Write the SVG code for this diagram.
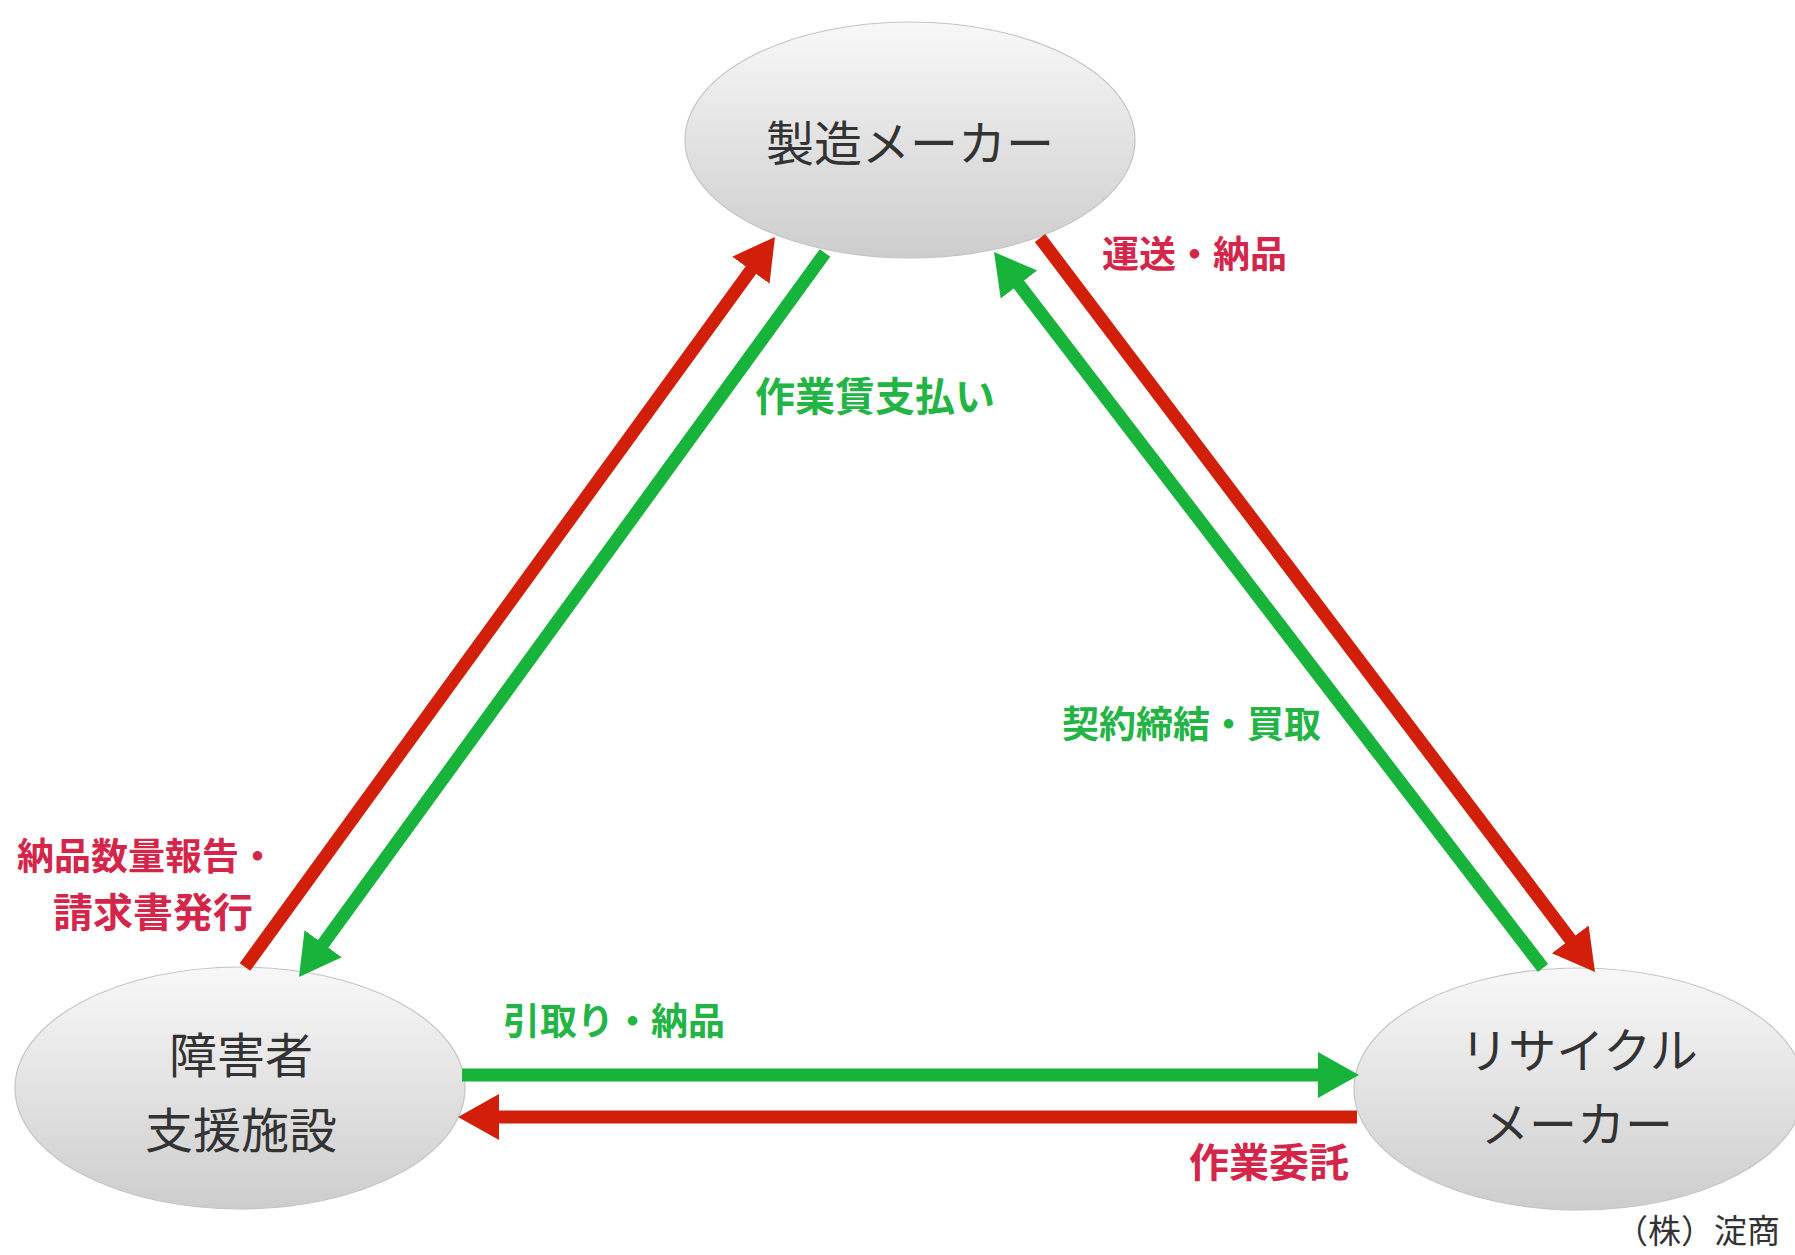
<svg xmlns="http://www.w3.org/2000/svg" width="1795" height="1255" viewBox="0 0 1795 1255">
<style>
.node-shape{fill:url(#g);stroke:#c4c4c4;stroke-width:1.2}
.node-text{font-family:"Noto Sans CJK JP","Noto Sans",sans-serif;font-size:48px;fill:#333;text-anchor:middle}
.lbl{font-family:"Noto Sans CJK JP","Noto Sans",sans-serif;font-size:37px;font-weight:bold}
.big{font-size:40px}
.red-t{fill:#d4264a}
.grn-t{fill:#22b445}
.red{stroke:#d21f0a;stroke-width:13;fill:none}
.grn{stroke:#17b33a;stroke-width:13;fill:none}
.credit{font-family:"Noto Sans CJK JP","Noto Sans",sans-serif;font-size:33px;fill:#333;text-anchor:end}
</style>
<defs>
<linearGradient id="g" x1="0" y1="0" x2="0" y2="1">
<stop offset="0" stop-color="#f8f8f8"/>
<stop offset="1" stop-color="#cdcdcd"/>
</linearGradient>
<marker id="ar" markerUnits="userSpaceOnUse" markerWidth="50" markerHeight="50" refX="6" refY="23" orient="auto" viewBox="0 0 50 46">
<path d="M0,0 L41,23 L0,46 z" fill="#d21f0a"/>
</marker>
<marker id="ag" markerUnits="userSpaceOnUse" markerWidth="50" markerHeight="50" refX="6" refY="23" orient="auto" viewBox="0 0 50 46">
<path d="M0,0 L41,23 L0,46 z" fill="#17b33a"/>
</marker>
</defs>
<rect width="1795" height="1255" fill="#fff"/>
<g id="node-maker">
<ellipse class="node-shape" cx="910" cy="140" rx="225" ry="118"/>
<text class="node-text" x="910" y="161">製造メーカー</text>
</g>
<g id="node-facility">
<ellipse class="node-shape" cx="240" cy="1088" rx="225" ry="121"/>
<text class="node-text" x="241" y="1073" font-size="50">障害者</text>
<text class="node-text" x="241" y="1148" font-size="50">支援施設</text>
</g>
<g id="node-recycle">
<ellipse class="node-shape" cx="1579" cy="1089" rx="225" ry="121"/>
<text class="node-text" x="1579" y="1068">リサイクル</text>
<text class="node-text" x="1577" y="1142">メーカー</text>
</g>
<g id="connectors">
<line class="red" x1="245" y1="967" x2="754.4" y2="265.3" marker-end="url(#ar)"/>
<line class="grn" x1="825" y1="253" x2="319.6" y2="948.7" marker-end="url(#ag)"/>
<line class="grn" x1="1543" y1="968" x2="1015.3" y2="279.8" marker-end="url(#ag)"/>
<line class="red" x1="1040" y1="238" x2="1573.9" y2="944.1" marker-end="url(#ar)"/>
<line class="grn" x1="462" y1="1075" x2="1324" y2="1075" marker-end="url(#ag)"/>
<line class="red" x1="1357" y1="1117" x2="493" y2="1117" marker-end="url(#ar)"/>
</g>
<g id="labels">
<text class="lbl red-t" x="1102" y="268">運送・納品</text>
<text class="lbl grn-t big" x="755" y="411">作業賃支払い</text>
<text class="lbl grn-t" x="1062" y="738">契約締結・買取</text>
<text class="lbl red-t" x="17" y="870" font-size="39">納品数量報告・</text>
<text class="lbl red-t big" x="53" y="927">請求書発行</text>
<text class="lbl grn-t" x="503" y="1035">引取り・納品</text>
<text class="lbl red-t big" x="1349" y="1177" text-anchor="end">作業委託</text>
</g>
<text class="credit" x="1780" y="1243">（株）淀商</text>
</svg>
